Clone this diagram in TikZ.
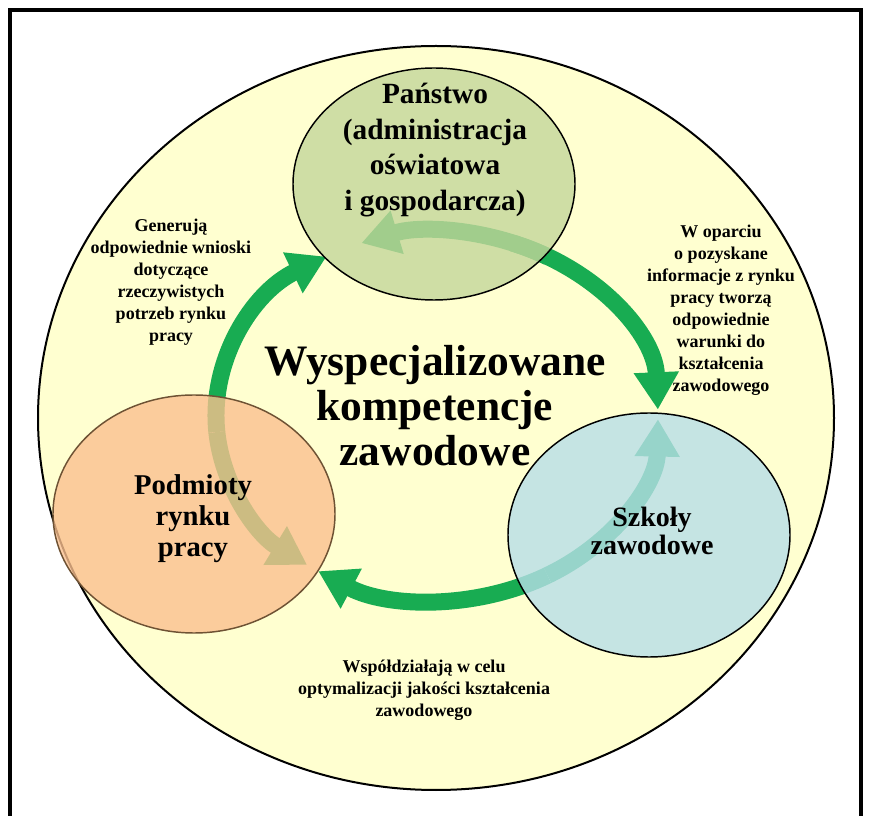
\documentclass[tikz,border=0pt]{standalone}
\usepackage{fontspec}
\setmainfont{Liberation Serif}
\usetikzlibrary{arrows.meta,shapes.geometric,calc}

\definecolor{bgyellow}{RGB}{255,255,208}
\definecolor{stategreen}{RGB}{196,214,155}
\definecolor{marketorange}{RGB}{250,192,143}
\definecolor{schoolblue}{RGB}{183,222,232}
\definecolor{flowgreen}{RGB}{24,172,82}
\definecolor{orangeedge}{RGB}{110,82,52}

\begin{document}
\begin{tikzpicture}[x=0.75pt,y=-0.75pt,
  actor/.style={ellipse,inner sep=0pt,line width=1.1pt,fill opacity=0.8,draw opacity=1,minimum width=211.5pt},
  flow/.style={line width=12.75pt,color=flowgreen,-{Triangle[width=32pt,length=28pt]}},
  note/.style={align=center,inner sep=0pt,font=\bfseries\fontsize{13.5}{16.5}\selectfont},
  actortext/.style={align=center,inner sep=0pt,font=\bfseries\fontsize{22}{26.6}\selectfont}]
\useasboundingbox (0,0) rectangle (872,816);

% frame and background
\draw[line width=3pt] (9.5,10) rectangle (861,840);
\draw[line width=1.5pt,fill=bgyellow] (436,418) ellipse[x radius=398,y radius=372];

% ring of arrows
\coordinate (ring) at (437,416);
\draw[flow] ($(ring)+(300:221 and 184)$) arc[start angle=300,end angle=250,x radius=221,y radius=184];
\draw[flow] ($(ring)+(60:221 and 184)$) arc[start angle=60,end angle=1,x radius=221,y radius=184];
\draw[flow] ($(ring)+(175:221 and 184)$) arc[start angle=175,end angle=126,x radius=221,y radius=184];
\draw[flow] ($(ring)+(175:221 and 184)$) arc[start angle=175,end angle=240,x radius=221,y radius=184];
\draw[flow] ($(ring)+(290:221 and 184)$) arc[start angle=290,end angle=358,x radius=221,y radius=184];
\draw[flow] ($(ring)+(60:221 and 184)$) arc[start angle=60,end angle=122.5,x radius=221,y radius=184];

% circles
\node[actor,draw=black,fill=stategreen,minimum height=174pt] (state) at (434,184) {};
\node[actor,draw=orangeedge,fill=marketorange,minimum height=178.5pt] (market) at (194,514) {};
\node[actor,draw=black,fill=schoolblue,minimum height=183pt] (school) at (649,535) {};

% texts
\node[actortext] (stateText) at (435,150) {Państwo\\(administracja\\oświatowa\\i gospodarcza)};
\node[actortext,font=\bfseries\fontsize{21.5}{23.25}\selectfont] (marketText) at (193,519) {Podmioty\\rynku\\pracy};
\node[actortext,font=\bfseries\fontsize{21}{21}\selectfont] (schoolText) at (652,531) {Szkoły\\zawodowe};
\node[align=center,inner sep=0pt,font=\bfseries\fontsize{32.6}{33.75}\selectfont] (title) at (435,406)
  {Wyspecjalizowane\\kompetencje\\zawodowe};

\node[note] (noteL) at (171,282) {Generują\\odpowiednie wnioski\\dotyczące\\rzeczywistych\\potrzeb rynku\\pracy};
\node[note] (noteR) at (721,310) {W oparciu\\o pozyskane\\informacje z rynku\\pracy tworzą\\odpowiednie\\warunki do\\kształcenia\\zawodowego};
\node[note] (noteB) at (424,690) {Współdziałają w celu\\optymalizacji jakości kształcenia\\zawodowego};

\end{tikzpicture}
\end{document}
